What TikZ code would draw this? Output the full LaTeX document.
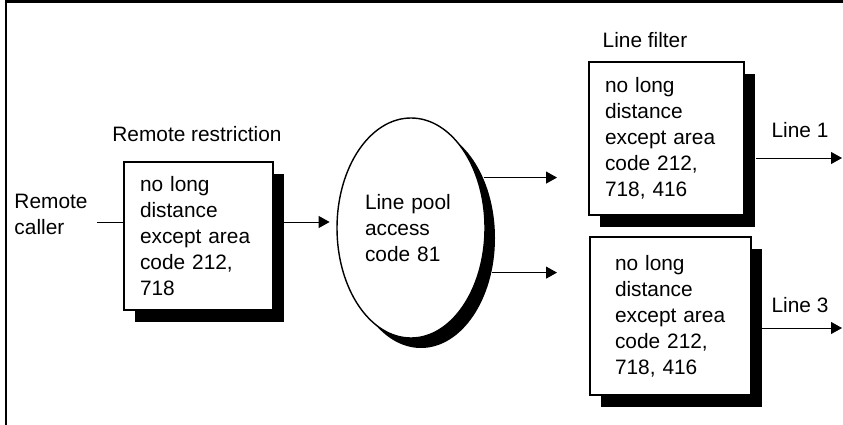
\documentclass[tikz,border=0pt]{standalone}
\usepackage{fontspec}
\setmainfont{Liberation Sans}
\usepackage{tikz}
\usetikzlibrary{shapes,positioning,shadows,arrows.meta}
\tikzset{blk/.style={rectangle,draw,line width=1.7pt,fill=white,align=left,inner sep=0pt,
  drop shadow={fill=black,opacity=1,shadow xshift=0.33cm,shadow yshift=-0.36cm}}}
\tikzset{ell/.style={ellipse,draw,line width=1.2pt,fill=white,align=left,inner sep=0pt,
  minimum width=4.44cm,minimum height=6.6cm,text width=2.76cm,
  drop shadow={fill=black,opacity=1,shadow xshift=0.3cm,shadow yshift=-0.3cm}}}
\tikzset{lbl/.style={align=left,inner sep=0pt}}
\tikzset{wire/.style={line width=0.8pt}}

\begin{document}
\begin{tikzpicture}[x=0.03cm,y=-0.03cm,>={Triangle[length=0.33cm,width=0.36cm]},font=\fontsize{17.8pt}{22.2pt}\selectfont]
    \useasboundingbox (0,0) rectangle (843,425);
    \draw [line width=2.5pt] (6,425) -- (6,1.5) -- (843,1.5);

    \node[lbl] (caller) at (51,214) {Remote\\caller};
    \node[lbl] (rtitle) at (197,134) {Remote restriction};
    \node[blk,minimum width=4.47cm,minimum height=4.44cm,text width=3.51cm] (restrict) at (198.5,236) {no long\\distance\\except area\\code 212,\\718};
    \node[ell] (pool) at (411,228) {Line pool\\access\\code 81};
    \node[lbl] (ftitle) at (645,40) {Line filter};
    \node[blk,minimum width=4.65cm,minimum height=4.59cm,text width=3.69cm] (filter1) at (666.5,138.5) {no long\\distance\\except area\\code 212,\\718, 416};
    \node[blk,minimum width=4.83cm,minimum height=4.74cm,text width=3.33cm] (filter3) at (670.5,316) {no long\\distance\\except area\\code 212,\\718, 416};
    \node[lbl] (line1) at (800,130) {Line 1};
    \node[lbl] (line3) at (800,305) {Line 3};

    \coordinate (in) at (97,222);
    \coordinate (p1) at ([shift={(10,10)}]pool.44.7);
    \coordinate (p3) at ([shift={(10,10)}]pool.-26.5);
    \coordinate (out1) at (842,158);
    \coordinate (out3) at (842,328);

    \draw [wire] (in) to (in -| restrict.west);
    \draw [->,wire,shorten <=0.3cm,shorten >=0.2cm] (in -| restrict.east) to (in -| pool.west);
    \draw [->,wire,shorten >=0.93cm] (p1) to (p1 -| filter1.west);
    \draw [->,wire,shorten >=0.96cm] (p3) to (p3 -| filter3.west);
    \draw [->,wire,shorten <=0.33cm] (out1 -| filter1.east) to (out1);
    \draw [->,wire,shorten <=0.3cm] (out3 -| filter3.east) to (out3);
\end{tikzpicture}
\end{document}
